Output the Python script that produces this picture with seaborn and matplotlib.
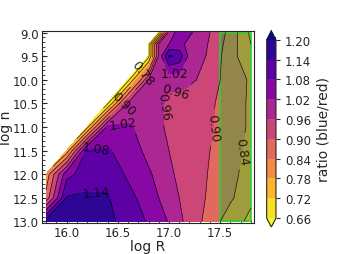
import numpy as np
import matplotlib
matplotlib.use("Agg")
import matplotlib.pyplot as plt
from matplotlib.patches import Rectangle
import seaborn as sns

nan = np.nan

# grid of the model (log R along x, log n along y)
log_R = [15.8, 16.0, 16.2, 16.4, 16.6, 16.8, 16.9, 17.0, 17.1, 17.2, 17.4, 17.6, 17.8]
log_n = [9.0, 9.25, 9.5, 10.0, 10.5, 11.0, 11.5, 12.0, 12.5, 13.0]

# ratio (blue/red), one row per log n
ratio_9_00 = [nan, nan, nan, nan, nan, nan, 0.64, 0.99, 1.04, 1.03, 0.96, 0.88, 0.766]
ratio_9_25 = [nan, nan, nan, nan, nan, 0.64, 0.97, 1.02, 1.04, 1.00, 0.955, 0.87, 0.78]
ratio_9_50 = [nan, nan, nan, nan, nan, 0.64, 0.97, 1.15, 1.12, 1.00, 0.95, 0.86, 0.80]
ratio_10_0 = [nan, nan, nan, nan, 0.64, 0.96, 0.99, 0.97, 0.98, 0.97, 0.94, 0.86, 0.835]
ratio_10_5 = [nan, nan, nan, 0.65, 0.97, 0.99, 0.97, 0.95, 0.94, 0.93, 0.91, 0.87, 0.83]
ratio_11_0 = [nan, nan, 0.70, 1.04, 1.03, 0.99, 0.97, 0.95, 0.94, 0.93, 0.905, 0.87, 0.83]
ratio_11_5 = [nan, 0.74, 1.10, 1.085, 1.06, 1.00, 0.98, 0.96, 0.945, 0.93, 0.90, 0.865, 0.82]
ratio_12_0 = [0.80, 1.06, 1.11, 1.12, 1.07, 1.03, 1.00, 0.97, 0.95, 0.935, 0.895, 0.86, 0.81]
ratio_12_5 = [0.86, 1.145, 1.15, 1.145, 1.10, 1.05, 1.02, 0.99, 0.96, 0.935, 0.89, 0.85, 0.79]
ratio_13_0 = [1.17, 1.18, 1.18, 1.16, 1.11, 1.075, 1.045, 1.015, 0.975, 0.936, 0.876, 0.804, 0.767]

levels = [0.66, 0.72, 0.78, 0.84, 0.90, 0.96, 1.02, 1.08, 1.14, 1.20]

# region beyond the cut in log R
cut_R = [17.5, 17.8]

sns.set_style("ticks", {"xtick.direction": "in", "ytick.direction": "in"})
plt.rcParams['font.family'] = ['DejaVu Sans']
plt.rcParams['xtick.minor.visible'] = True
plt.rcParams['ytick.minor.visible'] = True

Z = np.ma.masked_invalid(np.array([ratio_9_00, ratio_9_25, ratio_9_50, ratio_10_0, ratio_10_5,
                                   ratio_11_0, ratio_11_5, ratio_12_0, ratio_12_5, ratio_13_0]))
X, Y = np.meshgrid(log_R, log_n)

cmap = sns.color_palette("plasma_r", as_cmap=True)

fig = plt.figure(figsize=(3.41, 2.55), dpi=100)
ax = fig.add_axes([0.123, 0.122, 0.622, 0.754])
cax = fig.add_axes([0.782, 0.106, 0.0273, 0.769])

cf = ax.contourf(X, Y, Z, levels=levels, cmap=cmap, extend='both')
cs = ax.contour(X, Y, Z, levels=levels, colors='k', linewidths=0.5, alpha=0.8)

# shaded cut region with a green frame
ax.add_patch(Rectangle((cut_R[0], log_n[0]), cut_R[1] - cut_R[0], log_n[-1] - log_n[0],
                       facecolor=(0.0, 0.75, 0.15), alpha=0.35, edgecolor='none'))
ax.add_patch(Rectangle((cut_R[0], log_n[0]), cut_R[1] - cut_R[0], log_n[-1] - log_n[0],
                       facecolor='none', edgecolor='limegreen', linewidth=1.2))

ax.clabel(cs, fmt='%.2f', fontsize=9, inline=True,
          manual=[(16.29, 12.38), (16.29, 11.45), (16.55, 10.9), (16.8, 10.56),
                  (17.06, 10.48), (17.05, 9.97), (17.41, 11.0), (17.66, 11.5),
                  (16.75, 9.87), (16.55, 10.5)])

ax.set_xlim(15.76, 17.83)
ax.set_ylim(13.03, 8.96)
ax.set_xticks([16.0, 16.5, 17.0, 17.5])
ax.set_yticks([9.0, 9.5, 10.0, 10.5, 11.0, 11.5, 12.0, 12.5, 13.0])
ax.xaxis.set_major_formatter('{x:.1f}')
ax.yaxis.set_major_formatter('{x:.1f}')
ax.tick_params(labelsize=8.5, pad=2)
ax.set_xlabel('log R', fontsize=10, labelpad=0)
ax.set_ylabel('log n', fontsize=10, labelpad=0)

cbar = fig.colorbar(cf, cax=cax, ticks=levels)
cbar.ax.yaxis.set_major_formatter('{x:.2f}')
cbar.ax.tick_params(labelsize=8.5, direction='out', length=3)
cbar.ax.minorticks_off()
cbar.set_label('ratio (blue/red)', fontsize=10)

fig.savefig('out.png', dpi=100)
